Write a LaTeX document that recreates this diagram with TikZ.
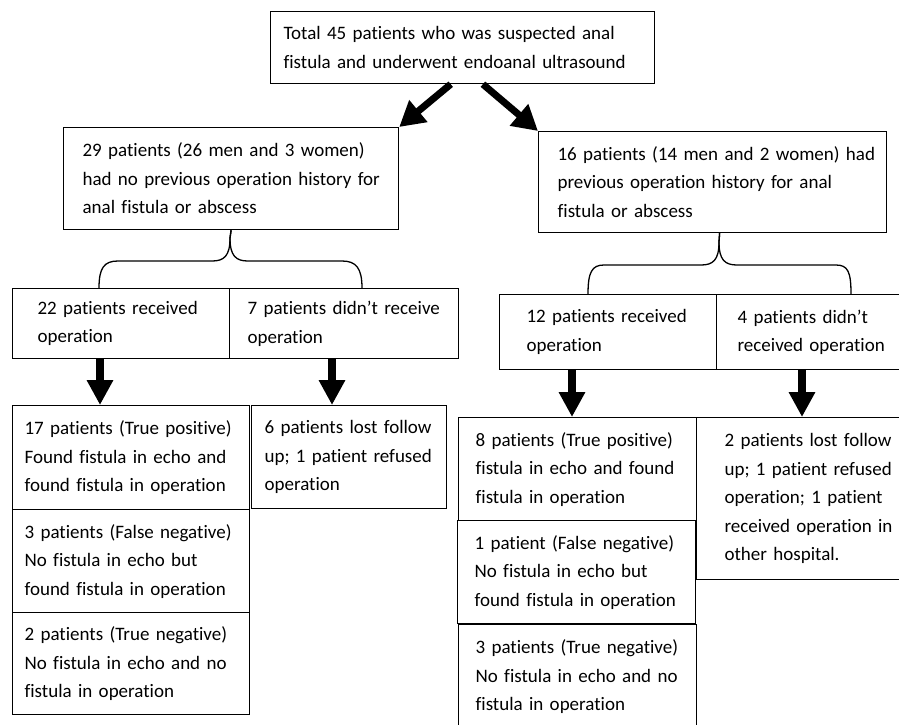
\documentclass[tikz,border=0pt]{standalone}
\usepackage{fontspec}
\setmainfont{Carlito}[Ligatures=NoCommon]
\usetikzlibrary{arrows.meta}

\begin{document}
\begin{tikzpicture}[x=1pt,y=-1pt]
        \tikzstyle{box}=[draw=black,line width=1.2pt,anchor=north west,align=left,inner xsep=2pt,inner ysep=0pt,font=\fontsize{19}{28.5}\selectfont,execute at begin node={\rightskip=0pt plus 1fil minus 80pt\hyphenpenalty=10000}]
        \tikzstyle{bigarrow}=[line width=7pt,-{Triangle[length=25pt,width=27pt]}]
        \tikzstyle{downarrow}=[line width=8.5pt,-{Triangle[length=25pt,width=25pt]}]
        \tikzstyle{curly}=[line width=1.3pt]
        \clip (0,0) rectangle (899,724);
        \fill[white] (0,0) rectangle (899,724);
        \node[box,minimum width=384,minimum height=72,text width=358] (total) at (270,11) {Total 45 patients who was suspected anal\\fistula and underwent endoanal ultrasound};
        \node[box,minimum width=335,minimum height=102,text width=297] (nohist) at (63,127) {29 patients (26 men and 3 women)\\had no previous operation history for\\anal fistula or abscess};
        \node[box,minimum width=348,minimum height=101,text width=310] (hist) at (538,131) {16 patients (14 men and 2 women) had\\previous operation history for anal\\fistula or abscess};
        \node[box,minimum width=217,minimum height=70,text width=167] (opa) at (12,288) {22 patients received\\operation};
        \node[box,minimum width=229,minimum height=70,text width=193] (noopa) at (229,288) {7 patients didn’t receive\\operation};
        \node[box,minimum width=217,minimum height=75,text width=163] (opb) at (499,294) {12 patients received\\operation};
        \node[box,minimum width=200,minimum height=75,text width=158] (noopb) at (716,294) {4 patients didn’t\\received operation};
        \node[box,minimum width=237,minimum height=104,text width=213] (tpa) at (12,405) {17 patients (True positive)\\Found fistula in echo and\\found fistula in operation};
        \node[box,minimum width=237,minimum height=103,text width=213] (fna) at (12,509) {3 patients (False negative)\\No fistula in echo but\\found fistula in operation};
        \node[box,minimum width=237,minimum height=102,text width=213] (tna) at (12,612) {2 patients (True negative)\\No fistula in echo and no\\fistula in operation};
        \node[box,minimum width=195,minimum height=103,text width=169] (losta) at (251,405) {6 patients lost follow\\up; 1 patient refused\\operation};
        \node[box,minimum width=238,minimum height=103,text width=204] (tpb) at (458,417) {8 patients (True positive)\\fistula in echo and found\\fistula in operation};
        \node[box,minimum width=238,minimum height=103,text width=204] (fnb) at (457,520) {1 patient (False negative)\\No fistula in echo but\\found fistula in operation};
        \node[box,minimum width=238,minimum height=104,text width=204] (tnb) at (458,624) {3 patients (True negative)\\No fistula in echo and no\\fistula in operation};
        \node[box,minimum width=240,minimum height=162,text width=184] (lostb) at (696,417) {2 patients lost follow\\up; 1 patient refused\\operation; 1 patient\\received operation in\\other hospital.};
        \draw[bigarrow] (total.252) -- (nohist.north east);
        \draw[bigarrow] (total.299) -- (hist.north west);
        \draw[curly] (nohist.south) -- (230,238) .. controls (230,256) and (224,261) .. (212,261) -- (118,261) .. controls (104,261) and (99,268) .. (opa.north -| 99,0);
        \draw[curly] (nohist.south) -- (230,238) .. controls (230,256) and (236,261) .. (248,261) -- (342,261) .. controls (356,261) and (362,268) .. (noopa.north -| 362,0);
        \draw[curly] ([xshift=7pt]hist.south) -- (719,242) .. controls (719,260) and (713,265) .. (701,265) -- (604,265) .. controls (592,265) and (588,272) .. (opb.north -| 588,0);
        \draw[curly] ([xshift=7pt]hist.south) -- (719,242) .. controls (719,260) and (725,265) .. (737,265) -- (836,265) .. controls (848,265) and (851,272) .. (noopb.north -| 851,0);
        \draw[downarrow] (opa.south -| 100,0) -- (tpa.north -| 100,0);
        \draw[downarrow] (noopa.south -| 332,0) -- (losta.north -| 332,0);
        \draw[downarrow] (opb.south -| 572,0) -- (tpb.north -| 572,0);
        \draw[downarrow] (noopb.south -| 802,0) -- (lostb.north -| 802,0);
    \end{tikzpicture}
\end{document}
